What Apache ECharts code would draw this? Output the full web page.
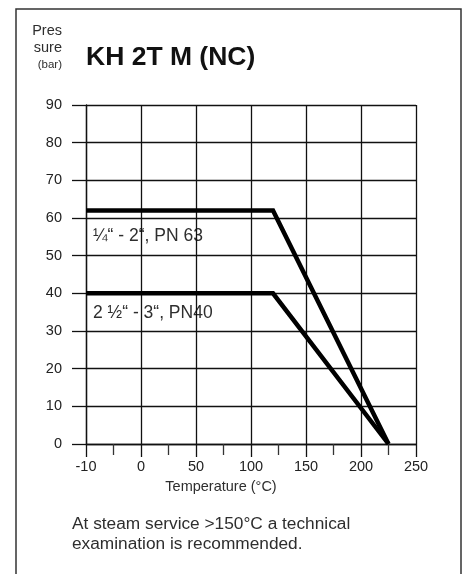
<!DOCTYPE html>
<html>
<head>
<meta charset="utf-8">
<script src="https://cdn.jsdelivr.net/npm/echarts@6/dist/echarts.min.js"></script>
<style>
html,body{margin:0;padding:0;background:#fff;}
#chart{width:467px;height:574px;}
</style>
</head>
<body>
<div id="chart"></div>
<script>
// Data (temperature °C, pressure bar)
const seriesNames = ['¼“ - 2“, PN 63', '2 ½“ - 3“, PN40'];
const tempPN63 = [-10, 120, 225];
const presPN63 = [62, 62, 0];
const tempPN40 = [-10, 120, 225];
const presPN40 = [40, 40, 0];
const xTickLabels = ['-10', '0', '50', '100', '150', '200', '250'];
const yTickLabels = ['0', '10', '20', '30', '40', '50', '60', '70', '80', '90'];

// The reference axis is broken below 0: -10..0 occupies one 50-unit span.
function toAxis(t) { return t < 0 ? t * 5 : t; }
function fromAxis(v) { return v < 0 ? v / 5 : v; }

const font = '"Liberation Sans", Arial, Helvetica, sans-serif';
const txt = '#2e2e2e';
const chart = echarts.init(document.getElementById('chart'), null, {renderer: 'canvas'});

function pairs(xs, ys) { return xs.map((x, i) => [toAxis(x), ys[i]]); }

chart.setOption({
  animation: false,
  backgroundColor: '#fff',
  grid: {left: 86, right: 51, top: 105, bottom: 130, containLabel: false},
  xAxis: {
    type: 'value',
    min: toAxis(Number(xTickLabels[0])),
    max: Number(xTickLabels[xTickLabels.length - 1]),
    interval: 50,
    axisLine: {show: true, onZero: false, lineStyle: {color: '#111', width: 1.3}},
    axisTick: {show: true, inside: false, length: 13, lineStyle: {color: '#111', width: 1.3}},
    minorTick: {show: true, splitNumber: 2, length: 11, lineStyle: {color: '#333', width: 1.3}},
    splitLine: {show: true, lineStyle: {color: '#111', width: 1.3}},
    axisLabel: {
      margin: 15, fontSize: 14.5, color: '#222', fontFamily: font,
      formatter: v => {
        const s = String(fromAxis(v));
        return xTickLabels.includes(s) ? s : '';
      }
    }
  },
  yAxis: {
    type: 'value',
    min: Number(yTickLabels[0]),
    max: Number(yTickLabels[yTickLabels.length - 1]),
    interval: 10,
    axisLine: {show: true, onZero: false, lineStyle: {color: '#111', width: 1.3}},
    axisTick: {show: true, inside: false, length: 14, lineStyle: {color: '#111', width: 1.3}},
    splitLine: {show: true, lineStyle: {color: '#111', width: 1.3}},
    axisLabel: {margin: 24, fontSize: 14.5, color: '#222', fontFamily: font}
  },
  series: [
    {name: seriesNames[0], type: 'line', data: pairs(tempPN63, presPN63), symbol: 'none',
     lineStyle: {color: '#000', width: 4.5, join: 'miter'}, z: 5},
    {name: seriesNames[1], type: 'line', data: pairs(tempPN40, presPN40), symbol: 'none',
     lineStyle: {color: '#000', width: 4.5, join: 'miter'}, z: 5}
  ],
  graphic: [
    {type: 'rect', shape: {x: 16, y: 9, width: 445, height: 600},
     style: {fill: 'none', stroke: '#333', lineWidth: 1.5}, silent: true},
    {type: 'text', x: 62, y: 30.5, style: {text: 'Pres', font: '14.5px ' + font, fill: txt, align: 'right', verticalAlign: 'middle'}},
    {type: 'text', x: 62, y: 48, style: {text: 'sure', font: '14.5px ' + font, fill: txt, align: 'right', verticalAlign: 'middle'}},
    {type: 'text', x: 62, y: 65, style: {text: '(bar)', font: '11.5px ' + font, fill: txt, align: 'right', verticalAlign: 'middle'}},
    {type: 'text', x: 86, y: 58, style: {text: 'KH 2T M (NC)', font: 'bold 26.5px ' + font, fill: '#111', align: 'left', verticalAlign: 'middle'}},
    {type: 'text', x: 93, y: 236, style: {text: seriesNames[0], font: '17.5px ' + font, fill: txt, align: 'left', verticalAlign: 'middle'}},
    {type: 'text', x: 93, y: 313, style: {text: seriesNames[1], font: '17.5px ' + font, fill: txt, align: 'left', verticalAlign: 'middle'}},
    {type: 'text', x: 221, y: 487, style: {text: 'Temperature (°C)', font: '14.5px ' + font, fill: txt, align: 'center', verticalAlign: 'middle'}},
    {type: 'text', x: 72, y: 524, style: {text: 'At steam service >150°C a technical', font: '17.3px ' + font, fill: txt, align: 'left', verticalAlign: 'middle'}},
    {type: 'text', x: 72, y: 544, style: {text: 'examination is recommended.', font: '17.3px ' + font, fill: txt, align: 'left', verticalAlign: 'middle'}}
  ]
});
</script>
</body>
</html>
